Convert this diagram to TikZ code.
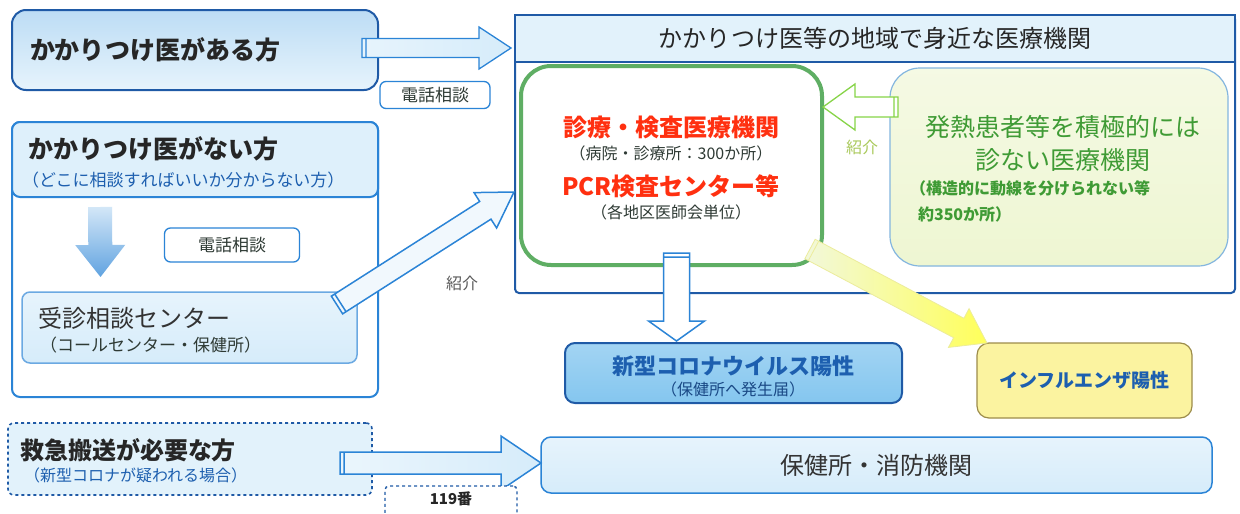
\documentclass[tikz,border=0pt]{standalone}
\usepackage{fontspec}
\setmainfont{Noto Sans CJK JP}
\usetikzlibrary{calc}
\definecolor{dkblue}{HTML}{1F5AA6}
\definecolor{arblue}{HTML}{2B84D6}
\definecolor{lblue}{HTML}{D6ECFA}
\definecolor{subblue}{HTML}{1D5FAF}
\definecolor{gbord}{HTML}{5FAE64}
\definecolor{lgfill}{HTML}{EEF6D2}
\definecolor{lgbord}{HTML}{84B6DF}
\definecolor{redt}{HTML}{FF3010}
\definecolor{gtext}{HTML}{3F9B35}
\definecolor{olive}{HTML}{A9C95A}
\definecolor{corfill}{HTML}{84C6EF}
\definecolor{flufill}{HTML}{FBF3A0}
\definecolor{flubord}{HTML}{9C8C4A}
\definecolor{darkt}{HTML}{2E3A34}
\newcommand\myfs[1]{\fontsize{#1}{#1}\selectfont}
% block arrow: style, start, end, shaft half width, head half width, head length
\newcommand\blkarrow[6]{%
  \path[#1] let \p1=(#2), \p2=(#3),
    \n1={atan2(\y2-\y1,\x2-\x1)}, \n2={veclen(\x2-\x1,\y2-\y1)} in
    {[shift={(\p1)},rotate=\n1]
     (0pt,-#4) -- (\n2-#6,-#4) -- (\n2-#6,-#5) -- (\n2,0pt) -- (\n2-#6,#5) -- (\n2-#6,#4) -- (0pt,#4) -- cycle
     (4pt,-#4) -- (4pt,#4)};}
\begin{document}
\begin{tikzpicture}[x=1pt,y=-1pt,
  boxb/.style={draw, inner sep=0pt, outer sep=0pt},
  lbl/.style={inner sep=0pt, outer sep=0pt},
  phonebox/.style={draw=arblue, line width=1.3pt, fill=white, rounded corners=6pt, inner sep=0pt, font=\myfs{17}, text=darkt}
]
\useasboundingbox (0,0) rectangle (1240,514);

% ---------- big right box ----------
\node[boxb, draw=dkblue, line width=2pt, rounded corners=4pt, fill=white,
  minimum width=720pt, minimum height=278pt] (big) at (875,154) {};
\node[boxb, draw=dkblue, line width=2pt, fill=lblue!70!white,
  minimum width=720pt, minimum height=47pt, font=\myfs{24}, text=black!85] (hdr) at (875,38.5)
  {かかりつけ医等の地域で身近な医療機関};

% green box
\node[boxb, draw=gbord, line width=4pt, rounded corners=30pt, fill=white,
  minimum width=301pt, minimum height=199pt] (grn) at (671.5,165.5) {};
\node[lbl, font=\myfs{24}\bfseries, text=redt] (g1) at (671,127) {診療・検査医療機関};
\node[lbl, font=\myfs{16}, text=darkt] (g2) at (671,153) {（病院・診療所：300か所）};
\node[lbl, font=\myfs{24}\bfseries, text=redt] (g3) at (671,186) {PCR検査センター等};
\node[lbl, font=\myfs{16}, text=darkt] (g4) at (671,212) {（各地区医師会単位）};

% light green box
\node[boxb, draw=lgbord, line width=1.2pt, rounded corners=30pt,
  top color=lgfill!60!white, bottom color=lgfill,
  minimum width=338pt, minimum height=198pt] (lg) at (1059,167) {};
\node[lbl, font=\myfs{25}, text=gtext] (l1) at (1063,127) {発熱患者等を積極的には};
\node[lbl, font=\myfs{25}, text=gtext] (l2) at (1063,160) {診ない医療機関};
\node[lbl, font=\myfs{16}\bfseries, text=gtext, anchor=west] (l3) at (910,188) {（構造的に動線を分けられない等};
\node[lbl, font=\myfs{16}\bfseries, text=gtext, anchor=west] (l4) at (918,214) {約350か所）};

% arrow light green -> green
\coordinate (lgs) at ($(lg.west)+(8,-60)$);
\coordinate (lge) at ($(grn.east |- lgs)+(1,0)$);
\blkarrow{draw=olive!80!green, line width=1.3pt, fill=white}{lgs}{lge}{10pt}{23pt}{32pt}
\node[lbl, font=\myfs{16}, text=olive] (sk1) at (862,147) {紹介};

% ---------- top-left ----------
\node[boxb, draw=dkblue, line width=2pt, rounded corners=14pt,
  top color=lblue!85!arblue, bottom color=lblue!60!white,
  minimum width=366pt, minimum height=80pt, text width=330pt, align=left,
  font=\myfs{25}\bfseries, text=black!85] (n1) at (195,50) {かかりつけ医がある方};
\coordinate (a1s) at ($(n1.east)+(-16,-2)$);
\coordinate (a1e) at ($(big.west |- a1s)+(-4,0)$);
\blkarrow{draw=arblue, line width=1.3pt, left color=lblue!60!white, right color=lblue}{a1s}{a1e}{9.5pt}{21pt}{32pt}
\node[phonebox, minimum width=110pt, minimum height=27pt] (ph1) at (435,95) {電話相談};

% ---------- middle-left ----------
\node[boxb, draw=arblue, line width=2pt, rounded corners=8pt, fill=white,
  minimum width=366pt, minimum height=275pt] (mid) at (195,259.5) {};
\node[boxb, draw=arblue, line width=2pt, rounded corners=8pt, fill=lblue!80!white,
  minimum width=366pt, minimum height=75pt] (midh) at (195,159.5) {};
\node[lbl, font=\myfs{25}\bfseries, text=black!85, anchor=west] (m1) at (28,149) {かかりつけ医がない方};
\node[lbl, font=\myfs{17}, text=subblue, anchor=west] (m2) at (22,180) {（どこに相談すればいいか分からない方）};

\node[boxb, draw=arblue!70!white, line width=1.5pt, rounded corners=8pt,
  top color=lblue!60!white, bottom color=lblue,
  minimum width=335pt, minimum height=71pt] (ctr) at (189.5,327.5) {};
\node[lbl, font=\myfs{24}, text=black!80, anchor=west] (c1) at (38,318) {受診相談センター};
\node[lbl, font=\myfs{17}, text=darkt, anchor=west] (c2) at (40,345) {（コールセンター・保健所）};

\coordinate (dls) at ($(midh.south)+(-95,10)$);
\coordinate (dle) at ($(ctr.north)+(-89,-15)$);
\blkarrow{top color=lblue!60!arblue!40!white, bottom color=arblue!75!white}{dls}{dle}{12pt}{25pt}{32pt}
\node[phonebox, minimum width=135pt, minimum height=34pt] (ph2) at (232,245) {電話相談};

% diagonal arrow centre -> big box
\coordinate (dgs) at ($(ctr.north east)+(-20,13)$);
\coordinate (dge) at ($(big.west)+(-1,38)$);
\blkarrow{draw=arblue, line width=1.5pt, fill=lblue!35!white}{dgs}{dge}{10.5pt}{21pt}{34pt}
\node[lbl, font=\myfs{16}, text=black!65] (sk2) at (462,283) {紹介};

% ---------- results ----------
\node[boxb, draw=dkblue, line width=2pt, rounded corners=10pt,
  top color=corfill!75!white, bottom color=corfill,
  minimum width=337pt, minimum height=60pt] (cor) at (733.5,373) {};
\node[lbl, font=\myfs{22}\bfseries, text=subblue] (co1) at (733,366) {新型コロナウイルス陽性};
\node[lbl, font=\myfs{16}, text=dkblue!80!black] (co2) at (733,389) {（保健所へ発生届）};

\node[boxb, draw=flubord, line width=1.2pt, rounded corners=12pt, fill=flufill,
  minimum width=215pt, minimum height=75pt, font=\myfs{19}\bfseries, text=subblue] (flu) at (1084.5,380.5) {インフルエンザ陽性};

\coordinate (cds) at ($(grn.south)+(5,-12)$);
\coordinate (cde) at ($(cor.north)+(-57,-2)$);
\blkarrow{draw=arblue, line width=1.5pt, fill=white}{cds}{cde}{13pt}{28pt}{20pt}

\coordinate (yds) at ($(grn.south east)+(-12,-16)$);
\coordinate (yde) at ($(flu.north west)+(10,0)$);
\blkarrow{draw=yellow!50!olive!50!white, line width=0.8pt, left color=lgfill!80!white, right color=yellow!65!white}{yds}{yde}{11pt}{22pt}{32pt}

% ---------- emergency ----------
\node[boxb, draw=dkblue, line width=1.6pt, dashed, rounded corners=6pt, fill=lblue!70!white,
  minimum width=364pt, minimum height=72pt] (em) at (190,459) {};
\node[lbl, font=\myfs{24}\bfseries, text=black!85, anchor=west] (e1) at (20,450) {救急搬送が必要な方};
\node[lbl, font=\myfs{16}, text=subblue, anchor=west] (e2) at (24,475) {（新型コロナが疑われる場合）};

\node[boxb, draw=arblue, line width=1.5pt, rounded corners=10pt,
  top color=lblue!60!white, bottom color=lblue,
  minimum width=671pt, minimum height=56pt, font=\myfs{24}, text=black!80] (hok) at (876.5,465) {保健所・消防機関};

\coordinate (ems) at ($(em.east)+(-32,4)$);
\coordinate (eme) at ($(hok.west |- ems)+(0,0)$);
\blkarrow{draw=arblue, line width=1.5pt, left color=lblue!50!white, right color=lblue}{ems}{eme}{11pt}{27pt}{40pt}

\node[boxb, draw=dkblue, line width=1.4pt, dashed, rounded corners=4pt, fill=white,
  minimum width=132pt, minimum height=36pt] (n119) at (451,504) {};
\node[lbl, font=\myfs{15}\bfseries, text=black!85] (t119) at (451,499) {119番};
\end{tikzpicture}
\end{document}
